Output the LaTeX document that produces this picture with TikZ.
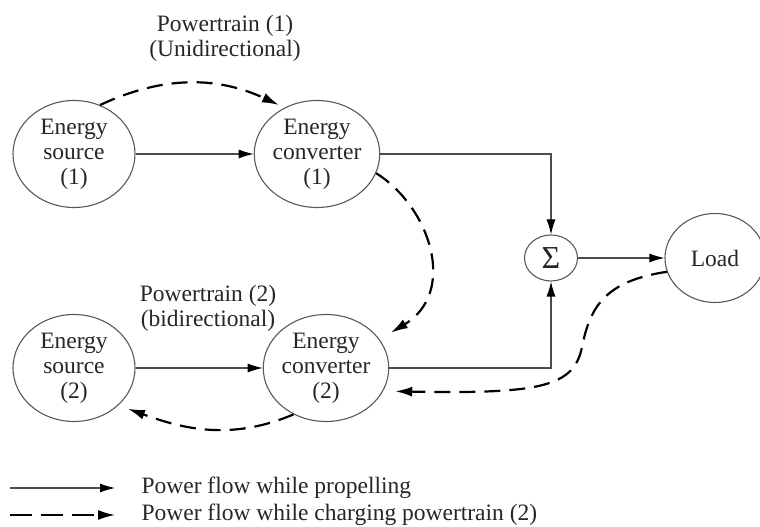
\documentclass[tikz,border=0pt]{standalone}
\usepackage{fontspec}
\setmainfont{Liberation Serif}
\usetikzlibrary{shapes.geometric,arrows.meta}
\begin{document}
\begin{tikzpicture}[x=1pt,y=1pt,
  every node/.style={font=\fontsize{23.5}{25}\selectfont, text=black!85},
  blob/.style={ellipse, draw=black!65, line width=1.1pt, minimum width=122pt, minimum height=107pt, inner sep=0pt, align=center},
  solidarr/.style={draw=black!70, line width=1.1pt, -{Latex[length=15pt,width=9pt,color=black]}},
  dasharr/.style={draw=black, line width=2.2pt, dash pattern=on 16pt off 9pt, -{Latex[length=17pt,width=10pt]}},
  lbl/.style={align=center}]
\useasboundingbox (0,0) rectangle (760,527);
\node[blob] (s1) at (74,373) {Energy\\source\\(1)};
\node[blob] (c1) at (317,373) {Energy\\converter\\(1)};
\node[blob] (s2) at (74,159) {Energy\\source\\(2)};
\node[blob] (c2) at (326,159) {Energy\\converter\\(2)};
\node[ellipse, draw=black!65, line width=1.1pt, minimum width=53pt, minimum height=46pt, inner sep=0pt] (sum) at (551,269) {\fontsize{32}{32}\selectfont Σ};
\node[blob, minimum width=100pt, minimum height=89pt] (load) at (715,269) {Load};
\node[lbl] (t1) at (225,489) {Powertrain (1)\\(Unidirectional)};
\node[lbl] (t2) at (208,219) {Powertrain (2)\\(bidirectional)};
% solid flows
\draw[solidarr] (s1) -- (c1);
\draw[solidarr] (s2) -- (c2);
\draw[solidarr] (c1.east) -| (sum.north);
\draw[solidarr] (c2.east) -| (sum.south);
\draw[solidarr] (sum) -- (load);
% dashed flows
\draw[dasharr, shorten >=6pt] (s1.62) to[out=25,in=155] (c1.125);
\draw[dasharr, shorten >=13pt] (c1.-18) .. controls (430,320) and (458,235) .. (c2.28);
\draw[dasharr, shorten >=12pt] (load.196) .. controls (605,246) and (590,220) .. (582,180) .. controls (574,140) and (540,133) .. (c2.-22);
\draw[dasharr, shorten >=10pt] (c2.235) to[out=203,in=-20] (s2.-40);
% legend
\coordinate (la1) at (10,39);
\coordinate (lb1) at (115,39);
\coordinate (la2) at (10,12);
\coordinate (lb2) at (115,12);
\draw[solidarr] (la1) -- (lb1);
\draw[dasharr, line width=1.6pt, dash pattern=on 22pt off 9pt] (la2) -- (lb2);
\node[anchor=west] (lt1) at (138,39) {Power flow while propelling};
\node[anchor=west] (lt2) at (138,12) {Power flow while charging powertrain (2)};
\end{tikzpicture}
\end{document}
